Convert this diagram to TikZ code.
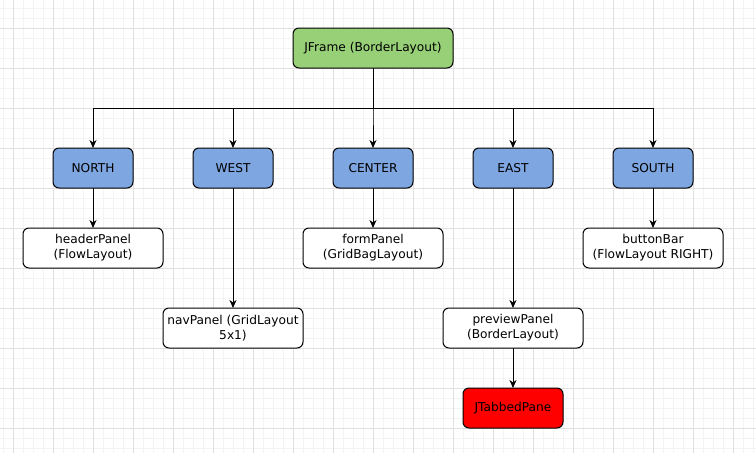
\documentclass[tikz,border=0pt]{standalone}
\usepackage{fontspec}
\setmainfont{DejaVu Sans}
\usetikzlibrary{arrows.meta,positioning}
\definecolor{framegreen}{HTML}{97D077}
\definecolor{slotblue}{HTML}{7EA6E0}
\definecolor{gridminor}{HTML}{F3F3F3}
\definecolor{gridmajor}{HTML}{E0E0E0}
\begin{document}
\begin{tikzpicture}[x=1pt, y=-1pt,
  every node/.style = {shape=rectangle, rounded corners=6pt,
    draw, line width=1pt, align=center, inner sep=0pt, outer sep=0pt,
    font=\fontsize{12.2}{15}\selectfont},
  slot/.style = {fill=slotblue, minimum width=80pt, minimum height=40pt},
  panel/.style = {fill=white, minimum width=140pt, minimum height=40pt},
  link/.style = {line width=1pt, -{Stealth[length=8pt,width=7pt,inset=2.5pt]}}]
  \useasboundingbox[fill=white] (0,0) rectangle (756,453);
  % grid
  \foreach \g in {3,13,...,753} \draw[gridminor] (\g,0) -- (\g,453);
  \foreach \g in {8,18,...,448} \draw[gridminor] (0,\g) -- (756,\g);
  \foreach \g in {13,53,...,733} \draw[gridmajor] (\g,0) -- (\g,453);
  \foreach \g in {28,68,...,428} \draw[gridmajor] (0,\g) -- (756,\g);
  % frame and its regions
  \node[fill=framegreen, minimum width=160pt, minimum height=40pt] (jframe) at (373,48) {JFrame (BorderLayout)};
  \node[slot, below=80pt of jframe] (center) {CENTER};
  \node[slot, left=60pt of center] (west) {WEST};
  \node[slot, left=60pt of west] (north) {NORTH};
  \node[slot, right=60pt of center] (east) {EAST};
  \node[slot, right=60pt of east] (south) {SOUTH};
  % panels
  \node[panel, below=40pt of north] (header) {headerPanel\\(FlowLayout)};
  \node[panel, below=120pt of west] (nav) {navPanel (GridLayout\\5x1)};
  \node[panel, below=40pt of center] (form) {formPanel\\(GridBagLayout)};
  \node[panel, below=120pt of east] (preview) {previewPanel\\(BorderLayout)};
  \node[panel, below=40pt of south] (buttons) {buttonBar\\(FlowLayout RIGHT)};
  \node[fill=red, minimum width=100pt, minimum height=40pt, below=40pt of preview] (tabs) {JTabbedPane};
  % connectors
  \coordinate (bus) at ([yshift=-40pt]jframe.south);
  \foreach \r in {north,west,center,east,south}
    \draw[link] (jframe.south) -- (bus) -| (\r.north);
  \draw[link] (north) -- (header);
  \draw[link] (west) -- (nav);
  \draw[link] (center) -- (form);
  \draw[link] (east) -- (preview);
  \draw[link] (south) -- (buttons);
  \draw[link] (preview) -- (tabs);
\end{tikzpicture}
\end{document}
